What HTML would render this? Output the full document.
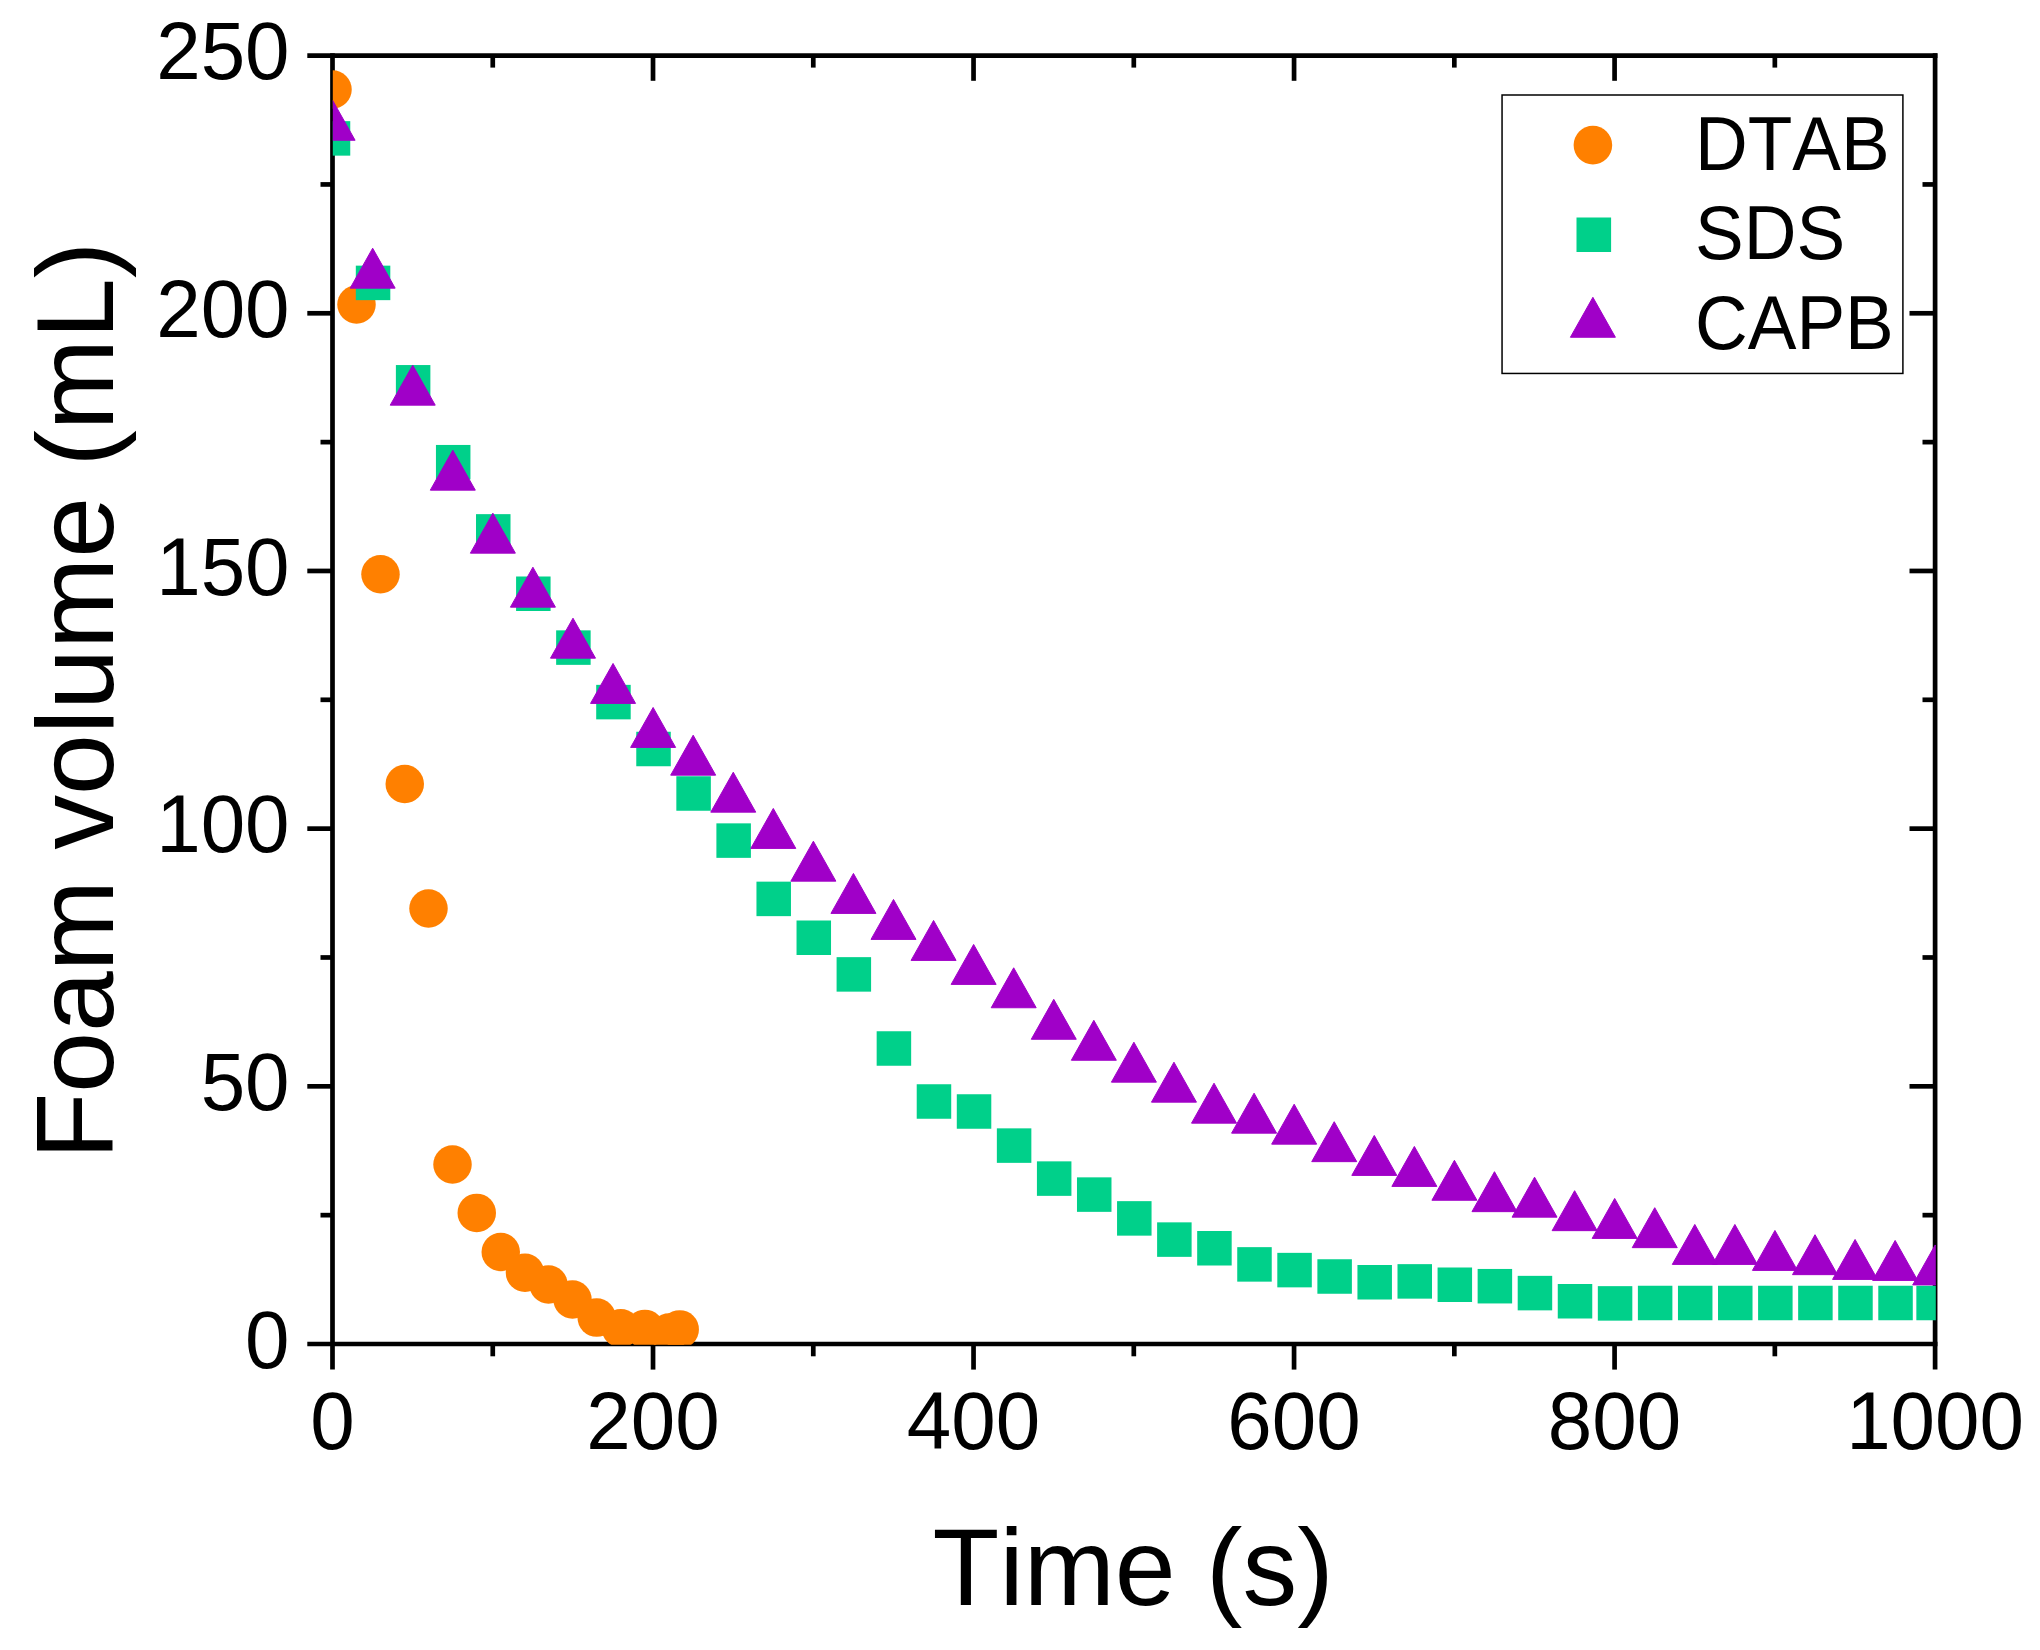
<!DOCTYPE html>
<html lang="en"><head><meta charset="utf-8"><title>Foam volume vs time</title>
<style>html,body{margin:0;padding:0;background:#fff}svg{display:block}text{font-family:"Liberation Sans",Arial,Helvetica,sans-serif;fill:#000;font-kerning:none;font-variant-ligatures:none}</style>
</head><body>
<svg width="2040" height="1650" viewBox="0 0 2040 1650">
<rect width="2040" height="1650" fill="#fff"/>
<defs><clipPath id="plot"><rect x="332.8" y="55.8" width="1603.0" height="1289.0"/></clipPath></defs>
<g stroke="#000" stroke-width="4.7" fill="none" stroke-linecap="butt">
<line x1="307.3" y1="55.60" x2="1937.45" y2="55.60"/>
<line x1="307.3" y1="1344.00" x2="1937.45" y2="1344.00"/>
<line x1="332.50" y1="53.25" x2="332.50" y2="1369.6"/>
<line x1="1935.10" y1="53.25" x2="1935.10" y2="1369.6"/>
<line x1="320.5" y1="1215.16" x2="332.50" y2="1215.16"/>
<line x1="1922.5" y1="1215.16" x2="1935.10" y2="1215.16"/>
<line x1="307.3" y1="1086.32" x2="332.50" y2="1086.32"/>
<line x1="1909.5" y1="1086.32" x2="1935.10" y2="1086.32"/>
<line x1="320.5" y1="957.48" x2="332.50" y2="957.48"/>
<line x1="1922.5" y1="957.48" x2="1935.10" y2="957.48"/>
<line x1="307.3" y1="828.64" x2="332.50" y2="828.64"/>
<line x1="1909.5" y1="828.64" x2="1935.10" y2="828.64"/>
<line x1="320.5" y1="699.80" x2="332.50" y2="699.80"/>
<line x1="1922.5" y1="699.80" x2="1935.10" y2="699.80"/>
<line x1="307.3" y1="570.96" x2="332.50" y2="570.96"/>
<line x1="1909.5" y1="570.96" x2="1935.10" y2="570.96"/>
<line x1="320.5" y1="442.12" x2="332.50" y2="442.12"/>
<line x1="1922.5" y1="442.12" x2="1935.10" y2="442.12"/>
<line x1="307.3" y1="313.28" x2="332.50" y2="313.28"/>
<line x1="1909.5" y1="313.28" x2="1935.10" y2="313.28"/>
<line x1="320.5" y1="184.44" x2="332.50" y2="184.44"/>
<line x1="1922.5" y1="184.44" x2="1935.10" y2="184.44"/>
<line x1="492.76" y1="1344.00" x2="492.76" y2="1356.3"/>
<line x1="492.76" y1="55.60" x2="492.76" y2="67.6"/>
<line x1="653.02" y1="1344.00" x2="653.02" y2="1369.6"/>
<line x1="653.02" y1="55.60" x2="653.02" y2="80.8"/>
<line x1="813.28" y1="1344.00" x2="813.28" y2="1356.3"/>
<line x1="813.28" y1="55.60" x2="813.28" y2="67.6"/>
<line x1="973.54" y1="1344.00" x2="973.54" y2="1369.6"/>
<line x1="973.54" y1="55.60" x2="973.54" y2="80.8"/>
<line x1="1133.80" y1="1344.00" x2="1133.80" y2="1356.3"/>
<line x1="1133.80" y1="55.60" x2="1133.80" y2="67.6"/>
<line x1="1294.06" y1="1344.00" x2="1294.06" y2="1369.6"/>
<line x1="1294.06" y1="55.60" x2="1294.06" y2="80.8"/>
<line x1="1454.32" y1="1344.00" x2="1454.32" y2="1356.3"/>
<line x1="1454.32" y1="55.60" x2="1454.32" y2="67.6"/>
<line x1="1614.58" y1="1344.00" x2="1614.58" y2="1369.6"/>
<line x1="1614.58" y1="55.60" x2="1614.58" y2="80.8"/>
<line x1="1774.84" y1="1344.00" x2="1774.84" y2="1356.3"/>
<line x1="1774.84" y1="55.60" x2="1774.84" y2="67.6"/>
</g>
<g clip-path="url(#plot)">
<g fill="#FF8000">
<circle cx="332.50" cy="89.50" r="19.25"/>
<circle cx="356.50" cy="304.50" r="19.25"/>
<circle cx="380.50" cy="574.25" r="19.25"/>
<circle cx="404.75" cy="784.00" r="19.25"/>
<circle cx="428.50" cy="908.50" r="19.25"/>
<circle cx="452.50" cy="1164.50" r="19.25"/>
<circle cx="476.75" cy="1212.90" r="19.25"/>
<circle cx="500.75" cy="1252.00" r="19.25"/>
<circle cx="525.00" cy="1272.75" r="19.25"/>
<circle cx="548.50" cy="1284.50" r="19.25"/>
<circle cx="572.50" cy="1299.50" r="19.25"/>
<circle cx="596.70" cy="1317.60" r="19.25"/>
<circle cx="620.80" cy="1328.20" r="19.25"/>
<circle cx="644.90" cy="1328.90" r="19.25"/>
<circle cx="669.00" cy="1332.60" r="19.25"/>
<circle cx="679.70" cy="1329.40" r="19.25"/>
</g>
<g fill="#00D08A">
<rect x="315.75" y="121.15" width="34.5" height="34.5"/>
<rect x="355.81" y="265.65" width="34.5" height="34.5"/>
<rect x="395.88" y="365.05" width="34.5" height="34.5"/>
<rect x="435.94" y="444.95" width="34.5" height="34.5"/>
<rect x="476.01" y="514.15" width="34.5" height="34.5"/>
<rect x="516.08" y="576.50" width="34.5" height="34.5"/>
<rect x="556.14" y="630.35" width="34.5" height="34.5"/>
<rect x="596.20" y="684.85" width="34.5" height="34.5"/>
<rect x="636.27" y="731.75" width="34.5" height="34.5"/>
<rect x="676.34" y="776.25" width="34.5" height="34.5"/>
<rect x="716.40" y="823.35" width="34.5" height="34.5"/>
<rect x="756.46" y="881.65" width="34.5" height="34.5"/>
<rect x="796.53" y="920.50" width="34.5" height="34.5"/>
<rect x="836.59" y="957.15" width="34.5" height="34.5"/>
<rect x="876.66" y="1031.25" width="34.5" height="34.5"/>
<rect x="916.72" y="1084.25" width="34.5" height="34.5"/>
<rect x="956.79" y="1094.25" width="34.5" height="34.5"/>
<rect x="996.85" y="1128.35" width="34.5" height="34.5"/>
<rect x="1036.92" y="1161.35" width="34.5" height="34.5"/>
<rect x="1076.98" y="1177.35" width="34.5" height="34.5"/>
<rect x="1117.05" y="1201.15" width="34.5" height="34.5"/>
<rect x="1157.11" y="1222.35" width="34.5" height="34.5"/>
<rect x="1197.18" y="1231.00" width="34.5" height="34.5"/>
<rect x="1237.24" y="1247.15" width="34.5" height="34.5"/>
<rect x="1277.31" y="1252.85" width="34.5" height="34.5"/>
<rect x="1317.38" y="1259.25" width="34.5" height="34.5"/>
<rect x="1357.44" y="1265.00" width="34.5" height="34.5"/>
<rect x="1397.50" y="1264.15" width="34.5" height="34.5"/>
<rect x="1437.57" y="1267.50" width="34.5" height="34.5"/>
<rect x="1477.63" y="1268.95" width="34.5" height="34.5"/>
<rect x="1517.70" y="1275.85" width="34.5" height="34.5"/>
<rect x="1557.76" y="1284.00" width="34.5" height="34.5"/>
<rect x="1597.83" y="1286.15" width="34.5" height="34.5"/>
<rect x="1637.89" y="1285.75" width="34.5" height="34.5"/>
<rect x="1677.96" y="1285.75" width="34.5" height="34.5"/>
<rect x="1718.02" y="1285.75" width="34.5" height="34.5"/>
<rect x="1758.09" y="1285.75" width="34.5" height="34.5"/>
<rect x="1798.15" y="1285.75" width="34.5" height="34.5"/>
<rect x="1838.22" y="1285.75" width="34.5" height="34.5"/>
<rect x="1878.28" y="1285.75" width="34.5" height="34.5"/>
<rect x="1916.35" y="1285.75" width="34.5" height="34.5"/>
</g>
<g fill="#A000C8" stroke="#A000C8" stroke-width="1" stroke-linejoin="round">
<path d="M332.60 100.30L355.10 140.25L310.10 140.25Z"/>
<path d="M372.67 248.20L395.17 288.15L350.17 288.15Z"/>
<path d="M412.73 365.20L435.23 405.15L390.23 405.15Z"/>
<path d="M452.80 450.20L475.30 490.15L430.30 490.15Z"/>
<path d="M492.86 513.20L515.36 553.15L470.36 553.15Z"/>
<path d="M532.92 567.20L555.42 607.15L510.42 607.15Z"/>
<path d="M572.99 618.20L595.49 658.15L550.49 658.15Z"/>
<path d="M613.06 663.45L635.56 703.40L590.56 703.40Z"/>
<path d="M653.12 707.45L675.62 747.40L630.62 747.40Z"/>
<path d="M693.18 735.20L715.68 775.15L670.68 775.15Z"/>
<path d="M733.25 772.20L755.75 812.15L710.75 812.15Z"/>
<path d="M773.31 808.45L795.81 848.40L750.81 848.40Z"/>
<path d="M813.38 841.20L835.88 881.15L790.88 881.15Z"/>
<path d="M853.44 873.45L875.94 913.40L830.94 913.40Z"/>
<path d="M893.51 899.45L916.01 939.40L871.01 939.40Z"/>
<path d="M933.57 920.45L956.07 960.40L911.07 960.40Z"/>
<path d="M973.64 944.45L996.14 984.40L951.14 984.40Z"/>
<path d="M1013.70 967.80L1036.20 1007.75L991.20 1007.75Z"/>
<path d="M1053.77 999.30L1076.27 1039.25L1031.27 1039.25Z"/>
<path d="M1093.84 1020.30L1116.34 1060.25L1071.34 1060.25Z"/>
<path d="M1133.90 1042.20L1156.40 1082.15L1111.40 1082.15Z"/>
<path d="M1173.96 1062.20L1196.46 1102.15L1151.46 1102.15Z"/>
<path d="M1214.03 1083.20L1236.53 1123.15L1191.53 1123.15Z"/>
<path d="M1254.09 1093.20L1276.59 1133.15L1231.59 1133.15Z"/>
<path d="M1294.16 1104.20L1316.66 1144.15L1271.66 1144.15Z"/>
<path d="M1334.22 1121.70L1356.72 1161.65L1311.72 1161.65Z"/>
<path d="M1374.29 1135.45L1396.79 1175.40L1351.79 1175.40Z"/>
<path d="M1414.36 1146.45L1436.86 1186.40L1391.86 1186.40Z"/>
<path d="M1454.42 1160.30L1476.92 1200.25L1431.92 1200.25Z"/>
<path d="M1494.48 1171.70L1516.98 1211.65L1471.98 1211.65Z"/>
<path d="M1534.55 1177.20L1557.05 1217.15L1512.05 1217.15Z"/>
<path d="M1574.61 1190.70L1597.11 1230.65L1552.11 1230.65Z"/>
<path d="M1614.68 1198.45L1637.18 1238.40L1592.18 1238.40Z"/>
<path d="M1654.74 1207.70L1677.24 1247.65L1632.24 1247.65Z"/>
<path d="M1694.81 1224.45L1717.31 1264.40L1672.31 1264.40Z"/>
<path d="M1734.88 1224.45L1757.38 1264.40L1712.38 1264.40Z"/>
<path d="M1774.94 1230.45L1797.44 1270.40L1752.44 1270.40Z"/>
<path d="M1815.00 1234.70L1837.50 1274.65L1792.50 1274.65Z"/>
<path d="M1855.07 1239.45L1877.57 1279.40L1832.57 1279.40Z"/>
<path d="M1895.13 1240.45L1917.63 1280.40L1872.63 1280.40Z"/>
<path d="M1935.20 1244.95L1957.70 1284.90L1912.70 1284.90Z"/>
</g>
</g>
<g font-size="80">
<text transform="translate(289.6 1367.8) scale(1 1.023)" text-anchor="end">0</text>
<text transform="translate(289.6 1110.1) scale(1 1.023)" text-anchor="end">50</text>
<text transform="translate(289.6 852.4) scale(1 1.023)" text-anchor="end">100</text>
<text transform="translate(289.6 594.8) scale(1 1.023)" text-anchor="end">150</text>
<text transform="translate(289.6 337.1) scale(1 1.023)" text-anchor="end">200</text>
<text transform="translate(289.6 79.4) scale(1 1.023)" text-anchor="end">250</text>
<text transform="translate(332.5 1449.1) scale(1 1.023)" text-anchor="middle">0</text>
<text transform="translate(653.0 1449.1) scale(1 1.023)" text-anchor="middle">200</text>
<text transform="translate(973.5 1449.1) scale(1 1.023)" text-anchor="middle">400</text>
<text transform="translate(1294.1 1449.1) scale(1 1.023)" text-anchor="middle">600</text>
<text transform="translate(1614.6 1449.1) scale(1 1.023)" text-anchor="middle">800</text>
<text transform="translate(1935.1 1449.1) scale(1 1.023)" text-anchor="middle">1000</text>
</g>
<text x="1133.1" y="1604.7" font-size="109.4" text-anchor="middle">Time (s)</text>
<text transform="translate(113.3 700.7) rotate(-90)" font-size="109.4" text-anchor="middle">Foam volume (mL)</text>
<rect x="1502.05" y="95" width="400.85" height="278.45" fill="#fff" stroke="#000" stroke-width="1.5"/>
<circle cx="1592.9" cy="145.1" r="19.3" fill="#FF8000"/>
<rect x="1576.5" y="217.5" width="34.6" height="34.5" fill="#00D08A"/>
<path d="M1592.90 297.30L1615.40 337.25L1570.40 337.25Z" fill="#A000C8" stroke="#A000C8" stroke-width="1" stroke-linejoin="round"/>
<g font-size="73">
<text transform="translate(1695 170) scale(1 1.028)">DTAB</text>
<text transform="translate(1695 259.4) scale(1 1.028)">SDS</text>
<text transform="translate(1695 349.3) scale(1 1.028)">CAPB</text>
</g>
</svg>
</body></html>
